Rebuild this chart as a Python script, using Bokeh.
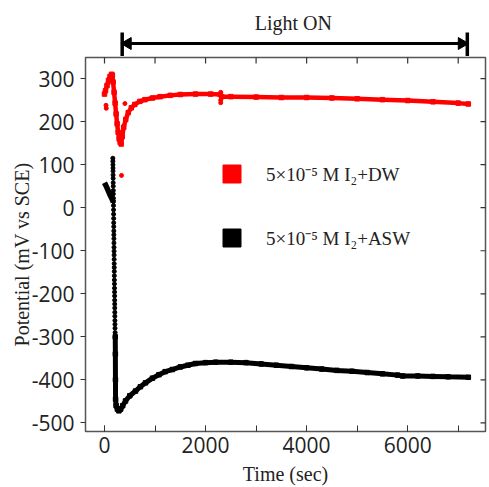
import numpy as np
from bokeh.plotting import figure
from bokeh.layouts import column
from bokeh.models import Range1d, FixedTicker, Legend, LegendItem, PrintfTickFormatter
from bokeh.core.properties import value
from bokeh.embed import file_html
from bokeh.resources import INLINE

# ---- data ----
# 5e-5 M I2 + DW (red), main trace
red_t = [0, 20, 50, 80, 110, 140, 155, 170, 190, 210, 230, 250, 270, 290, 310, 330,
         350, 380, 420, 470, 530, 600, 700, 800, 950, 1100, 1300, 1500, 1800, 2100,
         2290, 2320, 2500, 3000, 3500, 4000, 4500, 5000, 5500, 6000, 6500, 7000, 7200]
red_v = [264, 272, 284, 296, 305, 310, 308, 292, 268, 243, 218, 195, 175, 160, 152, 148,
         165, 187, 205, 221, 232, 240, 247, 251, 255, 258, 261, 263, 264, 264,
         263, 258, 258, 257, 256, 256, 255, 253, 251, 249, 246, 243, 241]
# red stray points
red_out_t = [30, 35, 404, 337, 2300, 2300, 2300]
red_out_v = [238, 231, 242, 75, 268, 250, 244]

# 5e-5 M I2 + ASW (black): initial cluster
blk0_t = [0, 30, 60, 90, 120, 150, 175]
blk0_v = [58, 51, 43, 35, 27, 20, 13]
# black: rapid drop (individual points)
drop_t = [165, 166, 167, 168, 169, 170, 171, 172, 173, 174, 175, 176, 177, 178, 179, 180,
          181, 182, 183, 184, 185, 186, 187, 188, 189, 190, 191, 192, 193, 194, 195, 196,
          197, 198, 199, 200, 201, 202, 203, 204, 205, 206, 207, 208, 210, 212]
drop_v = [115, 108, 100, 92, 85, 76, 68, 58, 50, 40, 32, 22, 14, 5, -5, -15,
          -25, -35, -44, -54, -63, -72, -82, -92, -101, -110, -120, -130, -139, -148, -158, -168,
          -177, -187, -196, -205, -215, -224, -233, -243, -252, -262, -271, -280, -290, -300]
# black: minimum and recovery
blk_t = [213, 215, 217, 219, 230, 255, 285, 320, 360, 416, 500, 614, 710, 812, 950, 1077,
         1200, 1341, 1500, 1650, 1800, 2000, 2200, 2500, 2800, 3100, 3400, 3700, 4000, 4300,
         4600, 4900, 5200, 5500, 5800, 5900, 6200, 6500, 6800, 7200]
blk_v = [-300, -340, -400, -445, -460, -468, -472, -468, -460, -449, -437, -426, -416, -407, -396, -388,
         -381, -376, -370, -366, -362, -360, -359, -359, -360, -363, -366, -369, -372, -375,
         -378, -380, -383, -386, -389, -391, -391, -392, -393, -394]

x_ticks = [0, 2000, 4000, 6000]
x_minor = [0, 1000, 2000, 3000, 4000, 5000, 6000, 7000]
y_ticks = [-500, -400, -300, -200, -100, 0, 100, 200, 300]

labels = ["5×10⁻⁵ M I₂+DW", "5×10⁻⁵ M I₂+ASW"]
LIGHT_ON = (350, 7180)     # light switched on / off (sec)
LIGHT_TEXT_X = 3737

X_MIN, X_MAX = -376, 7540
Y_MIN, Y_MAX = -520, 349

RED = "#ff0000"
FRAME = "#555555"
SERIF = "Liberation Serif"
SANS = "Open Sans"

xr = Range1d(X_MIN, X_MAX)

# ---------- top strip: "Light ON" arrow ----------
top = figure(width=489, height=56, output_backend="svg", toolbar_location=None,
             x_range=xr, y_range=Range1d(0, 1),
             min_border_left=85, min_border_right=4, min_border_top=0, min_border_bottom=0)
top.axis.visible = False
top.grid.visible = False
top.outline_line_color = None
ARROW_Y, BAR_TOP, BAR_BOT, TEXT_Y = 0.232, 0.43, 0.0, 0.607
top.segment(x0=[LIGHT_ON[0]], x1=[LIGHT_ON[1]], y0=[ARROW_Y], y1=[ARROW_Y],
            line_color="black", line_width=3)
top.segment(x0=list(LIGHT_ON), x1=list(LIGHT_ON), y0=[BAR_TOP, BAR_TOP], y1=[BAR_BOT, BAR_BOT],
            line_color="black", line_width=3.5)
HEAD_OFF = 110
top.scatter(x=[LIGHT_ON[0] + HEAD_OFF, LIGHT_ON[1] - HEAD_OFF], y=[ARROW_Y, ARROW_Y],
            marker="triangle", angle=[np.pi / 2, -np.pi / 2], size=12,
            fill_color="black", line_color="black")
top.text(x=[LIGHT_TEXT_X], y=[TEXT_Y], text=["Light ON"], text_align="center",
         text_baseline="middle", text_font=value(SERIF), text_font_size="20px",
         text_color="#222222")

# ---------- main plot ----------
p = figure(width=489, height=431, output_backend="svg", toolbar_location=None,
           x_range=xr, y_range=Range1d(Y_MIN, Y_MAX),
           min_border_left=85, min_border_right=4, min_border_top=1, min_border_bottom=54)
p.grid.visible = False
p.outline_line_color = FRAME
p.outline_line_width = 1.5

for ax in p.xaxis:
    ax.ticker = FixedTicker(ticks=x_ticks, minor_ticks=x_minor)
    ax.formatter = PrintfTickFormatter(format="%d")
    ax.major_tick_in = 6; ax.major_tick_out = 0
    ax.minor_tick_in = 6; ax.minor_tick_out = 0
    ax.major_tick_line_color = "#333333"; ax.minor_tick_line_color = "#333333"
    ax.axis_line_color = FRAME
    ax.major_label_text_font = SANS
    ax.major_label_text_font_size = "21px"
    ax.major_label_text_color = "#222222"
    ax.major_label_standoff = 5
    ax.axis_label = "Time (sec)"
    ax.axis_label_text_font = SERIF
    ax.axis_label_text_font_style = "normal"
    ax.axis_label_text_font_size = "20px"
    ax.axis_label_text_color = "#222222"
    ax.axis_label_standoff = 7
for ax in p.yaxis:
    ax.ticker = FixedTicker(ticks=y_ticks, minor_ticks=[])
    ax.formatter = PrintfTickFormatter(format="%d")
    ax.major_tick_in = 0; ax.major_tick_out = 5
    ax.major_tick_line_color = "#333333"
    ax.axis_line_color = FRAME
    ax.major_label_text_font = SANS
    ax.major_label_text_font_size = "21px"
    ax.major_label_text_color = "#222222"
    ax.major_label_standoff = 6
    ax.axis_label = "Potential (mV vs SCE)" + "\u00a0" * 4
    ax.axis_label_text_font = SERIF
    ax.axis_label_text_font_style = "normal"
    ax.axis_label_text_font_size = "20px"
    ax.axis_label_text_color = "#222222"
    ax.axis_label_standoff = -4

# inward ticks on the top and right edges (half of each dash is clipped by the frame)
p.scatter(x=x_minor, y=[Y_MAX] * len(x_minor), marker="dash", angle=np.pi / 2, size=12,
          line_color="#333333", line_width=1.2)
p.scatter(x=[X_MAX] * len(y_ticks), y=y_ticks, marker="dash", size=10,
          line_color="#333333", line_width=1.2)

# red series
p.line(red_t, red_v, line_color=RED, line_width=4.5)
r_red = p.scatter(red_t, red_v, marker="square", size=4.5, color=RED)
p.scatter(red_out_t, red_out_v, size=4, color=RED)

# black series
p.line(blk0_t, blk0_v, line_color="black", line_width=5.5)
p.scatter(drop_t, drop_v, size=4, color="black")
p.line(blk_t, blk_v, line_color="black", line_width=5)
r_blk = p.scatter(blk_t, blk_v, marker="square", size=4.5, color="black")

# legend: square swatch = 0.4 * glyph box
leg = Legend(items=[LegendItem(label=labels[0], renderers=[r_red]),
                    LegendItem(label=labels[1], renderers=[r_blk])],
             location=(124, 171), glyph_width=45, glyph_height=45, spacing=19,
             label_standoff=12, padding=0, margin=0, border_line_color=None,
             background_fill_alpha=0, label_text_font=SERIF, label_text_color="#222222",
             label_text_font_size="19px", label_height=20)
p.add_layout(leg, "center")

layout = column(top, p, spacing=0)
open("out.html", "w").write(file_html(layout, INLINE))
